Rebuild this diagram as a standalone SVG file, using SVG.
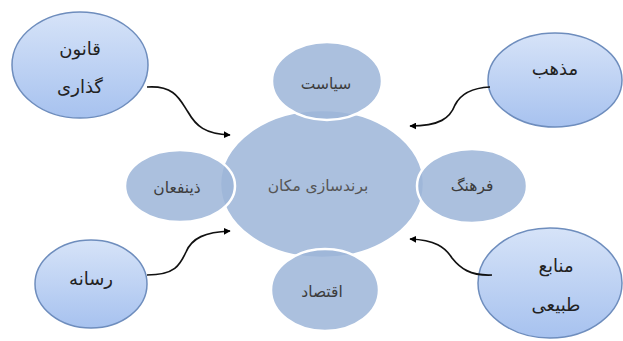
<svg xmlns="http://www.w3.org/2000/svg" width="623" height="341" viewBox="0 0 623 341">
<defs>
<linearGradient id="og" x1="0" y1="0" x2="0" y2="1">
<stop offset="0" stop-color="#d6e3f8"/>
<stop offset="1" stop-color="#a7c2ef"/>
</linearGradient>
<marker id="ah" viewBox="0 0 10 10" refX="9" refY="5" markerWidth="7" markerHeight="7" orient="auto" markerUnits="userSpaceOnUse">
<path d="M0,0 L10,5 L0,10 z" fill="#000"/>
</marker>
<style>
.outer{fill:url(#og);stroke:#6e8dbd;stroke-width:1.5}
.inner{fill:#9cb5d8;fill-opacity:0.85;stroke:#ffffff;stroke-width:2.5}
.t{font-family:"DejaVu Sans","Noto Sans",sans-serif;text-anchor:middle;dominant-baseline:middle}
.to{font-size:18px;fill:#222}
.ti{font-size:15.5px;fill:#3c3c3c}
.tc{font-size:15.5px;fill:#555}
.conn{fill:none;stroke:#111;stroke-width:1.7;marker-end:url(#ah)}
</style>
</defs>
<rect width="623" height="341" fill="#fff"/>
<g id="center"><ellipse class="inner" cx="322" cy="184" rx="102" ry="74"/><text class="t tc" x="318" y="186">برندسازی مکان</text></g>
<g id="siasat"><ellipse class="inner" cx="327" cy="81" rx="55" ry="39"/><text class="t ti" x="326" y="84">سیاست</text></g>
<g id="zinafan"><ellipse class="inner" cx="180" cy="186" rx="55" ry="36"/><text class="t ti" x="177" y="188">ذینفعان</text></g>
<g id="farhang"><ellipse class="inner" cx="472" cy="186" rx="55" ry="37"/><text class="t ti" x="472" y="186">فرهنگ</text></g>
<g id="eghtesad"><ellipse class="inner" cx="325" cy="290" rx="54" ry="41"/><text class="t ti" x="322" y="292">اقتصاد</text></g>
<g id="ghanoon"><ellipse class="outer" cx="80" cy="65" rx="68" ry="53"/><text class="t to" x="80" y="50">قانون</text><text class="t to" x="80" y="88">گذاری</text></g>
<g id="mazhab"><ellipse class="outer" cx="555" cy="80" rx="67" ry="47"/><text class="t to" x="555" y="70">مذهب</text></g>
<g id="resaneh"><ellipse class="outer" cx="91" cy="284" rx="56" ry="44"/><text class="t to" x="91" y="280">رسانه</text></g>
<g id="manabe"><ellipse class="outer" cx="550" cy="283" rx="72" ry="55"/><text class="t to" x="556" y="267">منابع</text><text class="t to" x="556" y="306">طبیعی</text></g>
<g id="connectors">
<path class="conn" d="M147,87 C175,85 180,100 188,112 C196,126 205,134 230,135"/>
<path class="conn" d="M490,87 C470,88 460,95 455,105 C450,118 440,126 410,126"/>
<path class="conn" d="M147,275 C175,275 180,265 186,252 C192,238 205,232 230,231"/>
<path class="conn" d="M492,275 C470,276 460,268 452,258 C445,247 435,240 410,239"/>
</g>
</svg>
